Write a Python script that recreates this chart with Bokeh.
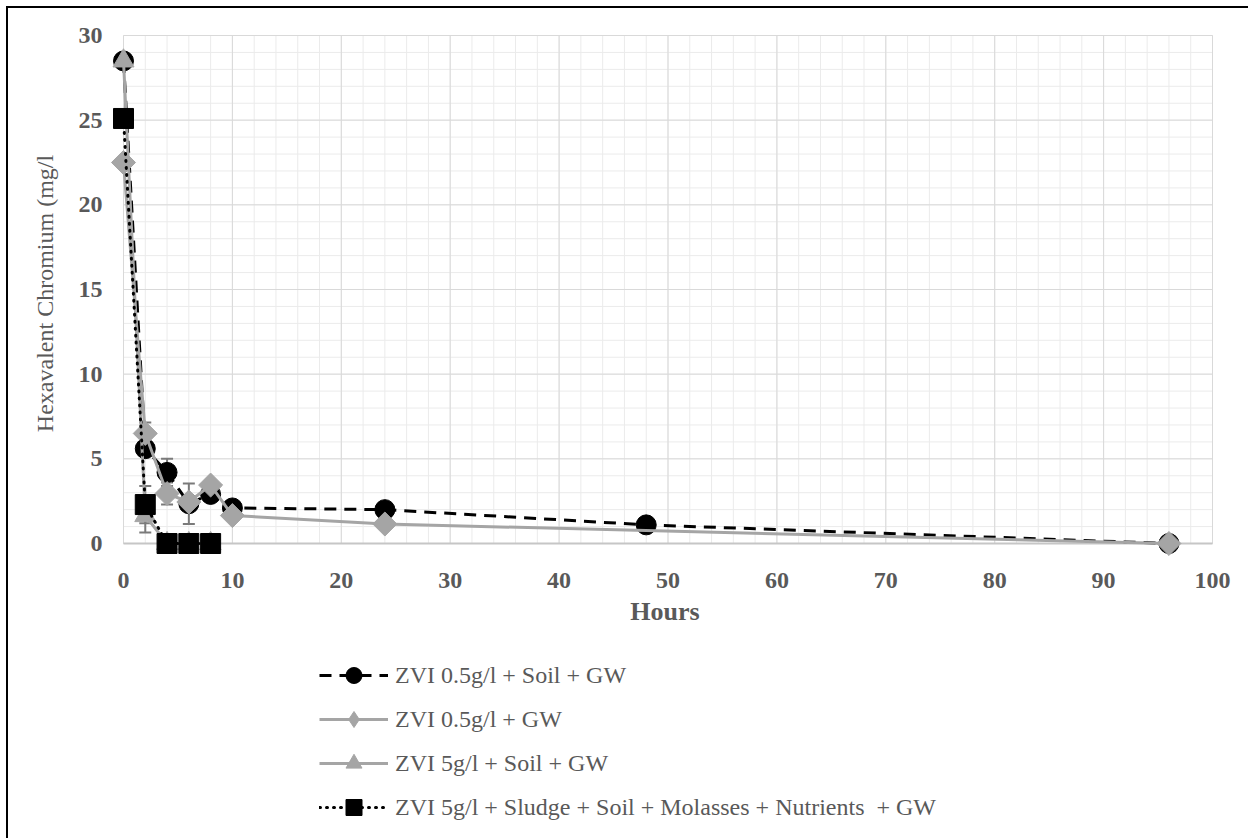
from bokeh.plotting import figure
from bokeh.layouts import column
from bokeh.models import (Range1d, FixedTicker, ColumnDataSource, Whisker, TeeHead,
                          Legend, LegendItem)
from bokeh.embed import file_html
from bokeh.resources import INLINE

# ---------------- data ----------------
hours_s1 = [0, 2, 4, 6, 8, 10, 24, 48, 96]
cr_s1 = [28.5, 5.6, 4.2, 2.35, 2.9, 2.1, 2.0, 1.1, 0.0]
err_s1 = [0, 0, 0.8, 1.2, 0, 0, 0, 0, 0]

hours_s2 = [0, 2, 4, 6, 8, 10, 24, 96]
cr_s2 = [22.5, 6.5, 2.95, 2.45, 3.45, 1.65, 1.15, 0.0]
err_s2 = [0, 0.65, 0.65, 0, 0, 0, 0, 0]

hours_s3 = [0, 2, 4, 6, 8]
cr_s3 = [28.5, 1.65, 0.0, 0.0, 0.0]
err_s3 = [0, 1.0, 0, 0, 0]

hours_s4 = [0, 2, 4, 6, 8]
cr_s4 = [25.1, 2.3, 0.0, 0.0, 0.0]
err_s4 = [0, 1.1, 0, 0, 0]

labels = [
    "ZVI 0.5g/l + Soil + GW",
    "ZVI 0.5g/l + GW",
    "ZVI 5g/l + Soil + GW",
    "ZVI 5g/l + Sludge + Soil + Molasses + Nutrients  + GW",
]

x_ticks = list(range(0, 101, 10))
y_ticks = list(range(0, 31, 5))
x_minor = list(range(0, 101, 2))
y_minor = list(range(0, 31, 1))

# ---------------- geometry (canvas px) ----------------
W = 1240
H1, H2 = 634, 196
FL, FR, FT, FB = 101, 1212, 22, 548      # frame edges
X0, X100 = 115, 1204                      # pixel of x=0 and x=100
Y30, Y0 = 27, 535                         # pixel of y=30 and y=0
kx = (X100 - X0) / 100.0
ky = (Y0 - Y30) / 30.0
x_range = Range1d((FL - X0) / kx, (FR - X0) / kx)
y_range = Range1d((Y0 - FB) / ky, (Y0 - FT) / ky)

FONT = "Liberation Serif"
TXT = "#595959"
GREY = "#a5a5a5"

p = figure(width=W, height=H1, x_range=x_range, y_range=y_range,
           output_backend="svg", toolbar_location=None,
           min_border_left=FL, min_border_right=W - FR,
           min_border_top=FT, min_border_bottom=H1 - FB)
p.title.visible = False
p.outline_line_color = None
p.xgrid.visible = False
p.ygrid.visible = False

# gridlines (styling, derived from tick lists)
p.segment(x0=x_minor, y0=0, x1=x_minor, y1=30, line_color="#ebebeb", line_width=1, level="underlay")
p.segment(x0=0, y0=y_minor, x1=100, y1=y_minor, line_color="#ebebeb", line_width=1, level="underlay")
p.segment(x0=x_ticks, y0=0, x1=x_ticks, y1=30, line_color="#d9d9d9", line_width=1, level="underlay")
p.segment(x0=0, y0=y_ticks, x1=100, y1=y_ticks, line_color="#d9d9d9", line_width=1, level="underlay")
p.segment(x0=0, y0=0, x1=100, y1=0, line_color="#c6c6c6", line_width=2, level="underlay")

# error bars
def add_err(xs, ys, es):
    xx = [x for x, e in zip(xs, es) if e > 0]
    up = [y + e for y, e in zip(ys, es) if e > 0]
    lo = [y - e for y, e in zip(ys, es) if e > 0]
    src = ColumnDataSource(dict(x=xx, upper=up, lower=lo))
    w = Whisker(base="x", upper="upper", lower="lower", source=src, dimension="height",
                line_color="#7a7a7a", line_width=2, level="underlay",
                upper_head=TeeHead(size=12, line_color="#7a7a7a", line_width=2),
                lower_head=TeeHead(size=12, line_color="#7a7a7a", line_width=2))
    p.add_layout(w)

add_err(hours_s1, cr_s1, err_s1)
add_err(hours_s2, cr_s2, err_s2)
add_err(hours_s3, cr_s3, err_s3)
add_err(hours_s4, cr_s4, err_s4)

# series styles
st1 = dict(line=dict(line_color="black", line_width=3, line_dash="12 8"),
           mark=dict(marker="circle", size=20, fill_color="black", line_color="black"),
           leg=dict(marker="circle", fill_color="black", line_color="black"))
st2 = dict(line=dict(line_color=GREY, line_width=3),
           mark=dict(marker="square", angle=0.785398, size=17, fill_color=GREY, line_color=GREY),
           leg=dict(marker="diamond", fill_color=GREY, line_color=GREY))
st3 = dict(line=dict(line_color=GREY, line_width=3),
           mark=dict(marker="triangle", size=21, fill_color=GREY, line_color=GREY),
           leg=dict(marker="triangle", fill_color=GREY, line_color=GREY))
st4 = dict(line=dict(line_color="black", line_width=3, line_dash="1 6", line_cap="round"),
           mark=dict(marker="square", size=20, fill_color="black", line_color="black"),
           leg=dict(marker="square", fill_color="black", line_color="black"))

series = [(hours_s1, cr_s1, st1), (hours_s2, cr_s2, st2),
          (hours_s3, cr_s3, st3), (hours_s4, cr_s4, st4)]
for xs, ys, st in series:
    p.line(xs, ys, **st["line"])
    p.scatter(xs, ys, **st["mark"])

# axes
for ax in (p.xaxis, p.yaxis):
    ax.axis_line_color = None
    ax.major_tick_line_color = None
    ax.minor_tick_line_color = None
    ax.major_tick_out = 0
    ax.major_tick_in = 0
    ax.major_label_text_font = FONT
    ax.major_label_text_font_style = "bold"
    ax.major_label_text_font_size = "24px"
    ax.major_label_text_color = TXT
    ax.axis_label_text_font = FONT
    ax.axis_label_text_color = TXT

p.xaxis.ticker = FixedTicker(ticks=x_ticks, minor_ticks=[])
p.yaxis.ticker = FixedTicker(ticks=y_ticks, minor_ticks=[])
p.xaxis.major_label_standoff = 16
p.yaxis.major_label_standoff = 7
p.xaxis.axis_label = "Hours"
p.xaxis.axis_label_text_font_style = "bold"
p.xaxis.axis_label_text_font_size = "26px"
p.xaxis.axis_label_standoff = 6
p.yaxis.axis_label = "Hexavalent Chromium (mg/l"
p.yaxis.axis_label_text_font_style = "normal"
p.yaxis.axis_label_text_font_size = "24px"
p.yaxis.axis_label_standoff = 18

# ---------------- legend panel ----------------
# proxies drawn from the same series, kept outside this panel's visible range
q = figure(width=W, height=H2, x_range=Range1d(500, 501), y_range=Range1d(500, 501),
           output_backend="svg", toolbar_location=None,
           x_axis_type=None, y_axis_type=None,
           min_border_left=0, min_border_right=0, min_border_top=0, min_border_bottom=0)
q.title.visible = False
q.outline_line_color = None
q.xgrid.visible = False
q.ygrid.visible = False

items = []
for lab, (xs, ys, st) in zip(labels, series):
    rl = q.line(xs, ys, **st["line"])
    rm = q.scatter(xs, ys, **st["leg"])
    items.append(LegendItem(label=lab, renderers=[rl, rm]))

legend = Legend(
    items=items, location=(210, 11), orientation="vertical",
    glyph_width=69, glyph_height=40, label_height=40, spacing=4,
    padding=0, margin=0, border_line_color=None, background_fill_alpha=0,
    label_text_font=FONT, label_text_font_size="24px", label_text_color=TXT,
    label_standoff=7, label_text_baseline="middle")
q.add_layout(legend)

layout = column(p, q, spacing=0)
layout.styles = {"margin-top": "6px", "margin-left": "6px",
                 "border-top": "2px solid black", "border-left": "2px solid black"}

open("out.html", "w").write(file_html(layout, INLINE))
